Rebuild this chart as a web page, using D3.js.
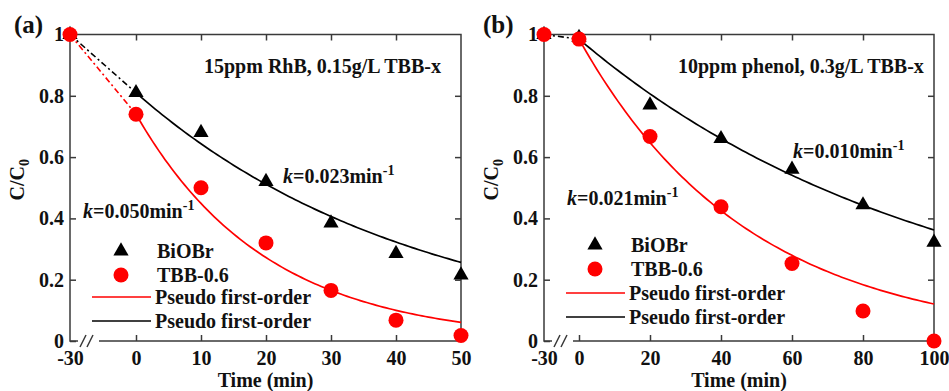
<!DOCTYPE html>
<html>
<head>
<meta charset="utf-8">
<script src="https://cdn.jsdelivr.net/npm/d3@7"></script>
<style>
  body { margin: 0; background: #fff; }
  text { font-family: "Liberation Serif", "Times New Roman", serif; font-weight: bold; fill: #111; }
</style>
</head>
<body>
<div id="container"></div>
<script>
// panel (a): RhB
const timeA = [-30, 0, 10, 20, 30, 40, 50];
const biobrA = [1.0, 0.81, 0.68, 0.52, 0.385, 0.285, 0.215];
const tbbA = [1.0, 0.74, 0.50, 0.32, 0.165, 0.068, 0.018];
const kA = [0.023, 0.050];        // BiOBr, TBB-0.6
const fitStartA = [0.81, 0.74];   // C/C0 at t = 0 for the fits
const xTicksA = [-30, 0, 10, 20, 30, 40, 50];

// panel (b): phenol
const timeB = [-30, 0, 20, 40, 60, 80, 100];
const biobrB = [1.0, 0.99, 0.77, 0.66, 0.56, 0.444, 0.322];
const tbbB = [1.0, 0.985, 0.667, 0.438, 0.253, 0.098, 0.0];
const kB = [0.010, 0.021];
const fitStartB = [0.985, 0.985];
const xTicksB = [-30, 0, 20, 40, 60, 80, 100];

const yTicks = [0, 0.2, 0.4, 0.6, 0.8, 1];
const legendLabels = ["BiOBr", "TBB-0.6", "Pseudo first-order", "Pseudo first-order"];

const axisColor = "#3a3a3a";
const red = "#ff0000";
const fs = "20px";

let svg = d3.select("#container")
  .append("svg")
  .attr("width", 949)
  .attr("height", 391);

drawPanel(svg, {
  label: "(a)", labelX: 14,
  left: 70, right: 461, zeroX: 136,
  time: timeA, biobr: biobrA, tbb: tbbA, k: kA, fitStart: fitStartA, xTicks: xTicksA,
  title: "15ppm RhB, 0.15g/L TBB-x", titleX: 204, titleY: 73,
  kText: [[283, 183], [83, 218]],
  legendX: 92,
  legendY: [251, 275, 297, 321],
  dash: [true, true]
});

drawPanel(svg, {
  label: "(b)", labelX: 483,
  left: 544, right: 934, zeroX: 579,
  time: timeB, biobr: biobrB, tbb: tbbB, k: kB, fitStart: fitStartB, xTicks: xTicksB,
  title: "10ppm phenol, 0.3g/L TBB-x", titleX: 678, titleY: 73,
  kText: [[793, 158], [567, 205]],
  legendX: 566,
  legendY: [245, 269, 293, 317],
  dash: [true, false]
});

function drawPanel(svg, cfg) {
  let top = 34.5, bottom = 341;
  let tMax = cfg.time[cfg.time.length - 1];

  // broken axis: -30 sits just left of the break
  let x = d3.scaleLinear()
    .domain([-30, 0, tMax])
    .range([cfg.left, cfg.zeroX, cfg.right]);

  let y = d3.scaleLinear()
    .domain([0, 1])
    .range([bottom, top]);

  let g = svg.append("g");

  let fmtY = function(d) { return (d === 0 || d === 1) ? d : d.toFixed(1); };
  let fmtX = function(d) { return String(d); };  // plain hyphen for -30

  // axes, ticks pointing inward
  let xAxis = g.append("g")
    .attr("transform", "translate(0," + bottom + ")")
    .call(d3.axisBottom(x).tickValues(cfg.xTicks).tickSizeInner(-6).tickSizeOuter(0).tickPadding(10).tickFormat(fmtX));
  xAxis.selectAll(".tick line").filter(function(d) { return d === -30; }).remove();

  let xTop = g.append("g")
    .attr("transform", "translate(0," + top + ")")
    .call(d3.axisTop(x).tickValues(cfg.xTicks.slice(1, -1)).tickSizeInner(-6).tickSizeOuter(0).tickFormat(""));

  let yAxis = g.append("g")
    .attr("transform", "translate(" + cfg.left + ",0)")
    .call(d3.axisLeft(y).tickValues(yTicks).tickSizeInner(-6).tickSizeOuter(0).tickPadding(6).tickFormat(fmtY));

  let yRight = g.append("g")
    .attr("transform", "translate(" + cfg.right + ",0)")
    .call(d3.axisRight(y).tickValues(yTicks.slice(1, -1)).tickSizeInner(-6).tickSizeOuter(0).tickFormat(""));

  [xAxis, xTop, yAxis, yRight].forEach(function(a) {
    a.attr("font-family", null).attr("font-size", null);
    a.select(".domain").remove();
    a.selectAll("line").attr("stroke", axisColor).attr("stroke-width", 1.5);
    a.selectAll("text")
      .attr("fill", "#111")
      .style("font-size", fs);
  });

  // frame with the break on the bottom axis
  let frame = g.append("g")
    .attr("stroke", axisColor)
    .attr("stroke-width", 1.5)
    .attr("fill", "none");
  frame.append("path")
    .attr("d", "M" + (cfg.left + 8) + "," + bottom + "H" + cfg.left + "V" + top + "H" + cfg.right + "V" + bottom + "H" + (cfg.left + 29));
  frame.append("path")
    .attr("d", "M" + (cfg.left + 10) + "," + (bottom + 6) + "l6,-12" + "M" + (cfg.left + 17) + "," + (bottom + 6) + "l6,-12");

  // dashed links from the dark period to t = 0
  let colors = ["#000", red];
  [0, 1].forEach(function(i) {
    if (!cfg.dash[i]) return;
    g.append("line")
      .attr("x1", x(-30)).attr("y1", y(1))
      .attr("x2", x(0)).attr("y2", y(cfg.fitStart[i]))
      .attr("stroke", colors[i])
      .attr("stroke-width", 1.6)
      .attr("stroke-dasharray", "6,3,2,3");
  });

  // pseudo first-order fits, C = C0 exp(-kt)
  let line = d3.line()
    .x(function(d) { return x(d[0]); })
    .y(function(d) { return y(d[1]); });

  [0, 1].forEach(function(i) {
    let pts = d3.range(0, tMax + 0.01, tMax / 100).map(function(t) {
      return [t, cfg.fitStart[i] * Math.exp(-cfg.k[i] * t)];
    });
    g.append("path")
      .datum(pts)
      .attr("d", line)
      .attr("fill", "none")
      .attr("stroke", colors[i])
      .attr("stroke-width", 1.7);
  });

  // markers
  let tri = d3.symbol().type(d3.symbolTriangle).size(100);

  g.selectAll(".tri")
    .data(cfg.time.map(function(t, i) { return [t, cfg.biobr[i]]; }))
    .enter().append("path")
      .attr("class", "tri")
      .attr("d", tri)
      .attr("transform", function(d) { return "translate(" + x(d[0]) + "," + y(d[1]) + ")"; })
      .attr("fill", "#000");

  g.selectAll(".dot")
    .data(cfg.time.map(function(t, i) { return [t, cfg.tbb[i]]; }))
    .enter().append("circle")
      .attr("class", "dot")
      .attr("cx", function(d) { return x(d[0]); })
      .attr("cy", function(d) { return y(d[1]); })
      .attr("r", 7.5)
      .attr("fill", red);

  // texts
  g.append("text")
    .attr("x", cfg.labelX).attr("y", 33)
    .style("font-size", "25px")
    .text(cfg.label);

  g.append("text")
    .attr("x", cfg.titleX).attr("y", cfg.titleY)
    .style("font-size", fs)
    .text(cfg.title);

  cfg.kText.forEach(function(p, i) {
    let t = g.append("text")
      .attr("x", p[0]).attr("y", p[1])
      .style("font-size", fs);
    t.append("tspan").style("font-style", "italic").text("k");
    t.append("tspan").text("=" + cfg.k[i].toFixed(3) + "min");
    t.append("tspan").attr("dy", -8).style("font-size", "14px").text("-1");
  });

  // axis titles
  let midY = (top + bottom) / 2;
  let yl = g.append("text")
    .attr("transform", "translate(" + (cfg.left - 46) + "," + (midY - 8) + ") rotate(-90)")
    .attr("text-anchor", "middle")
    .style("font-size", fs);
  yl.append("tspan").text("C/C");
  yl.append("tspan").attr("dy", 5).style("font-size", "14px").text("0");

  g.append("text")
    .attr("x", (cfg.left + cfg.right) / 2).attr("y", 387)
    .attr("text-anchor", "middle")
    .style("font-size", fs)
    .text("Time (min)");

  // legend
  let lx = cfg.legendX;
  let lg = g.append("g");
  lg.append("path")
    .attr("d", tri)
    .attr("transform", "translate(" + (lx + 29) + "," + cfg.legendY[0] + ")");
  lg.append("circle")
    .attr("cx", lx + 29).attr("cy", cfg.legendY[1]).attr("r", 7.5)
    .attr("fill", red);
  lg.append("line")
    .attr("x1", lx).attr("x2", lx + 59)
    .attr("y1", cfg.legendY[2]).attr("y2", cfg.legendY[2])
    .attr("stroke", red).attr("stroke-width", 1.7);
  lg.append("line")
    .attr("x1", lx).attr("x2", lx + 59)
    .attr("y1", cfg.legendY[3]).attr("y2", cfg.legendY[3])
    .attr("stroke", "#000").attr("stroke-width", 1.7);

  lg.selectAll("text")
    .data(legendLabels)
    .enter().append("text")
      .attr("x", function(d, i) { return i < 2 ? lx + 65 : lx + 63; })
      .attr("y", function(d, i) { return cfg.legendY[i] + 7; })
      .style("font-size", fs)
      .text(function(d) { return d; });
}
</script>
</body>
</html>
